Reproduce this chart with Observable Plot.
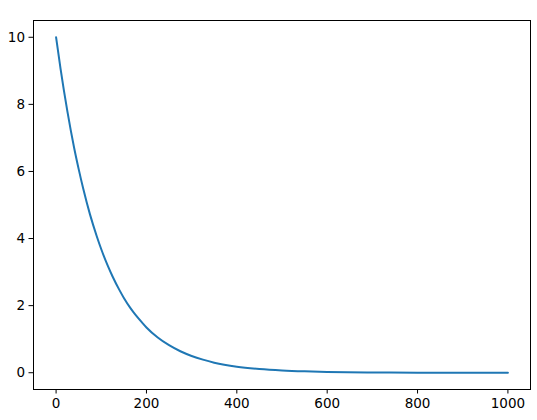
<!DOCTYPE html>
<html>
<head>
<meta charset="utf-8">
<script src="https://cdn.jsdelivr.net/npm/d3@7"></script>
<script src="https://cdn.jsdelivr.net/npm/@observablehq/plot@0.6"></script>
<style>
  html, body { margin: 0; padding: 0; background: #fff; }
  #chart svg { display: block; }
</style>
</head>
<body>
<div id="chart"></div>
<script>
// Values
const xValues = [0, 10, 25, 40, 50, 60, 75, 90, 100, 115, 125, 140, 150, 165, 175, 190, 200, 225, 250, 275, 300, 325, 350, 400, 450, 500, 550, 600, 700, 800, 900, 1000];
const yValues = [10, 9.05, 7.79, 6.70, 6.07, 5.49, 4.72, 4.07, 3.68, 3.17, 2.87, 2.47, 2.23, 1.92, 1.74, 1.50, 1.35, 1.05, 0.82, 0.64, 0.50, 0.39, 0.30, 0.18, 0.11, 0.067, 0.041, 0.025, 0.009, 0.003, 0.001, 0.0005];
const xTicks = [0, 200, 400, 600, 800, 1000];
const yTicks = [0, 2, 4, 6, 8, 10];

const data = xValues.map((x, i) => ({x, y: yValues[i]}));

const chart = Plot.plot({
  width: 537,
  height: 420,
  marginLeft: 33,
  marginRight: 7,
  marginTop: 20,
  marginBottom: 31,
  style: {fontFamily: "DejaVu Sans", fontSize: "13.5px", color: "#000", background: "#fff"},
  x: {domain: [-50, 1050], ticks: xTicks, tickFormat: d => String(d), label: null},
  y: {domain: [-0.5, 10.5], ticks: yTicks, tickFormat: d => String(d), label: null},
  marks: [
    Plot.frame({stroke: "#000", strokeWidth: 1}),
    Plot.axisX({ticks: xTicks, tickSize: 4.5, tickPadding: 4, tickFormat: d => String(d), label: null, stroke: "#000"}),
    Plot.axisY({ticks: yTicks, tickSize: 4.5, tickPadding: 4, tickFormat: d => String(d), label: null, stroke: "#000"}),
    Plot.line(data, {x: "x", y: "y", stroke: "#1f77b4", strokeWidth: 2, curve: "monotone-x"})
  ]
});
document.getElementById("chart").appendChild(chart);
</script>
</body>
</html>
